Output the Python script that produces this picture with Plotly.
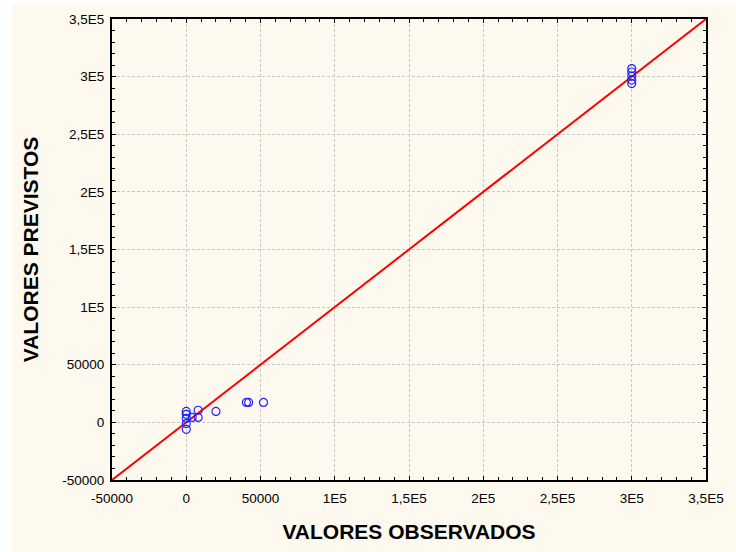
import plotly.graph_objects as go

# Data
obs = [0, 0, 0, 0, 0, 4000, 8000, 8000, 20000, 40500, 42000, 52000,
       300000, 300000, 300000, 300000, 300000]
prev = [9500, 7000, 3500, -6000, -1000, 4300, 10500, 4300, 9500, 17300, 17300, 17300,
        307000, 304000, 300500, 297000, 294000]

line_x = [-50000, 350000]
line_y = [-50000, 350000]

tick_vals = [-50000, 0, 50000, 100000, 150000, 200000, 250000, 300000, 350000]
tick_text = ["-50000", "0", "50000", "1E5", "1,5E5", "2E5", "2,5E5", "3E5", "3,5E5"]

cream = "#FDF9EE"

fig = go.Figure()
fig.add_trace(go.Scatter(x=line_x, y=line_y, mode="lines",
                         line=dict(color="#FF0000", width=2), showlegend=False))
fig.add_trace(go.Scatter(x=obs, y=prev, mode="markers",
                         marker=dict(symbol="circle-open", size=8,
                                     color="#2222FF", line=dict(width=1.2)),
                         showlegend=False))

axis_common = dict(
    range=[-50000, 350000], tickvals=tick_vals, ticktext=tick_text,
    showline=True, linecolor="black", linewidth=2, mirror="ticks",
    ticks="inside", ticklen=4, tickcolor="black", tickwidth=1,
    showgrid=True, gridcolor="#C8C8C8", gridwidth=1, griddash="3px,2px",
    zeroline=False,
    tickfont=dict(family="Liberation Sans, Arial", size=13.5, color="black"),
    minor=dict(ticks="inside", dtick=10000, ticklen=3, tickcolor="black",
               tickwidth=1, showgrid=False),
)

title_font = dict(family="Liberation Sans, Arial", size=21, color="black")

fig.update_layout(
    width=736, height=552,
    margin=dict(l=112, r=23, t=19, b=71),
    paper_bgcolor="white", plot_bgcolor="white",
    xaxis=dict(**axis_common, ticklabelstandoff=5,
               title=dict(text="<b>VALORES OBSERVADOS</b>", standoff=19,
                          font=title_font)),
    yaxis=dict(**axis_common, ticklabelstandoff=3,
               title=dict(text="<b>VALORES PREVISTOS</b>", standoff=18,
                          font=title_font)),
    shapes=[dict(type="rect", xref="paper", yref="paper",
                 x0=-0.168, x1=1.05, y0=-0.16, y1=1.030,
                 fillcolor=cream, line=dict(width=0), layer="below")],
)

fig.write_html("out.html")
